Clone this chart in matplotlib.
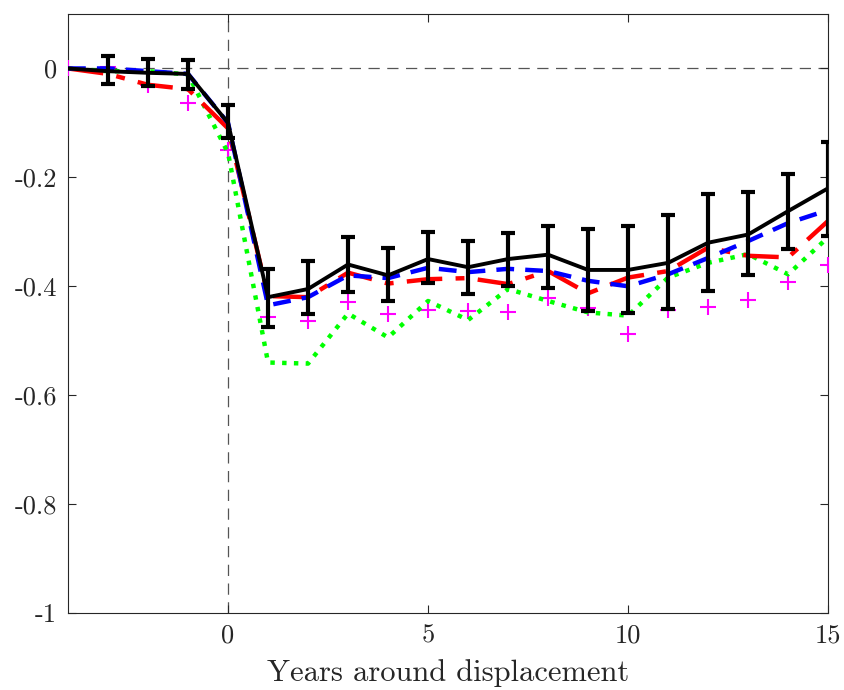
import matplotlib
matplotlib.use("Agg")
import matplotlib.pyplot as plt

# years around displacement
years = list(range(-4, 16))

# main estimate (black, with error bars)
est = [0.0, -0.005, -0.008, -0.01, -0.10, -0.42, -0.405, -0.36, -0.38, -0.35,
       -0.365, -0.35, -0.342, -0.37, -0.37, -0.357, -0.32, -0.305, -0.262, -0.22]
ci_hi = [None, 0.022, 0.018, 0.016, -0.068, -0.368, -0.353, -0.31, -0.33, -0.30,
         -0.317, -0.302, -0.29, -0.295, -0.29, -0.27, -0.23, -0.227, -0.194, -0.135]
ci_lo = [None, -0.029, -0.033, -0.038, -0.128, -0.474, -0.45, -0.41, -0.427, -0.394,
         -0.414, -0.40, -0.403, -0.445, -0.449, -0.441, -0.408, -0.379, -0.331, -0.307]

# alternative specifications
blue = [0.0, 0.0, -0.005, -0.01, -0.10, -0.435, -0.42, -0.38, -0.385, -0.366,
        -0.374, -0.368, -0.372, -0.39, -0.40, -0.378, -0.348, -0.317, -0.284, -0.26]
red = [0.0, -0.01, -0.03, -0.038, -0.11, -0.418, -0.42, -0.375, -0.395, -0.387,
       -0.385, -0.396, -0.372, -0.413, -0.384, -0.372, -0.329, -0.344, -0.347, -0.28]
green = [0.0, -0.005, -0.005, -0.011, -0.155, -0.54, -0.542, -0.45, -0.494, -0.427,
         -0.462, -0.405, -0.427, -0.448, -0.454, -0.384, -0.357, -0.341, -0.378, -0.31]
magenta = [0.0, 0.002, -0.03, -0.063, -0.149, -0.457, -0.463, -0.429, -0.45, -0.443,
           -0.445, -0.448, -0.421, -0.44, -0.487, -0.443, -0.438, -0.425, -0.392, -0.361]

xticks = [0, 5, 10, 15]
yticks = [0, -0.2, -0.4, -0.6, -0.8, -1]
yticklabels = ["0", "-0.2", "-0.4", "-0.6", "-0.8", "-1"]

plt.rcParams['font.family'] = ['cmr10', 'DejaVu Serif']
plt.rcParams['axes.unicode_minus'] = False

fig = plt.figure(figsize=(8.45, 6.9), dpi=100)
ax = fig.add_axes([0.0805, 0.1116, 0.8995, 0.8681])

# reference lines
ax.axhline(0, color='#555555', lw=0.9, ls=(0, (9, 6)), zorder=1)
ax.axvline(0, color='#555555', lw=0.9, ls=(0, (9, 6)), zorder=1)

# error bars (skip the reference year)
ex = [x for x, h in zip(years, ci_hi) if h is not None]
ey = [e for e, h in zip(est, ci_hi) if h is not None]
lo_err = [e - l for e, l in zip(est, ci_lo) if l is not None]
hi_err = [h - e for e, h in zip(est, ci_hi) if h is not None]
ax.errorbar(ex, ey, yerr=[lo_err, hi_err], fmt='none', ecolor='black',
            elinewidth=3, capsize=5, capthick=3, zorder=5)

ax.plot(years, magenta, ls='none', marker='+', ms=11, mew=1.5, color='#ff00ff', zorder=3)
ax.plot(years, green, ls=':', lw=3.2, color='#00ff00', zorder=3)
ax.plot(years, red, ls='-.', lw=3.2, color='#ff0000', dashes=[8, 3, 2, 3], zorder=4)
ax.plot(years, blue, ls='--', lw=3.2, color='#0000ff', dashes=[4, 2.5], zorder=4)
ax.plot(years, est, ls='-', lw=2.8, color='black', zorder=6)

ax.set_xlim(-4, 15)
ax.set_ylim(-1, 0.1)
ax.set_xticks(xticks)
ax.set_xticklabels([str(t) for t in xticks])
ax.set_yticks(yticks)
ax.set_yticklabels(yticklabels)
ax.tick_params(direction='in', top=True, right=True, length=6, width=0.8,
               colors='#262626', labelsize=19, pad=8)
for s in ax.spines.values():
    s.set_color('#262626')
    s.set_linewidth(0.8)

ax.set_xlabel("Years around displacement", fontsize=22, color='#262626', labelpad=8)

fig.savefig("out.png", dpi=100)
